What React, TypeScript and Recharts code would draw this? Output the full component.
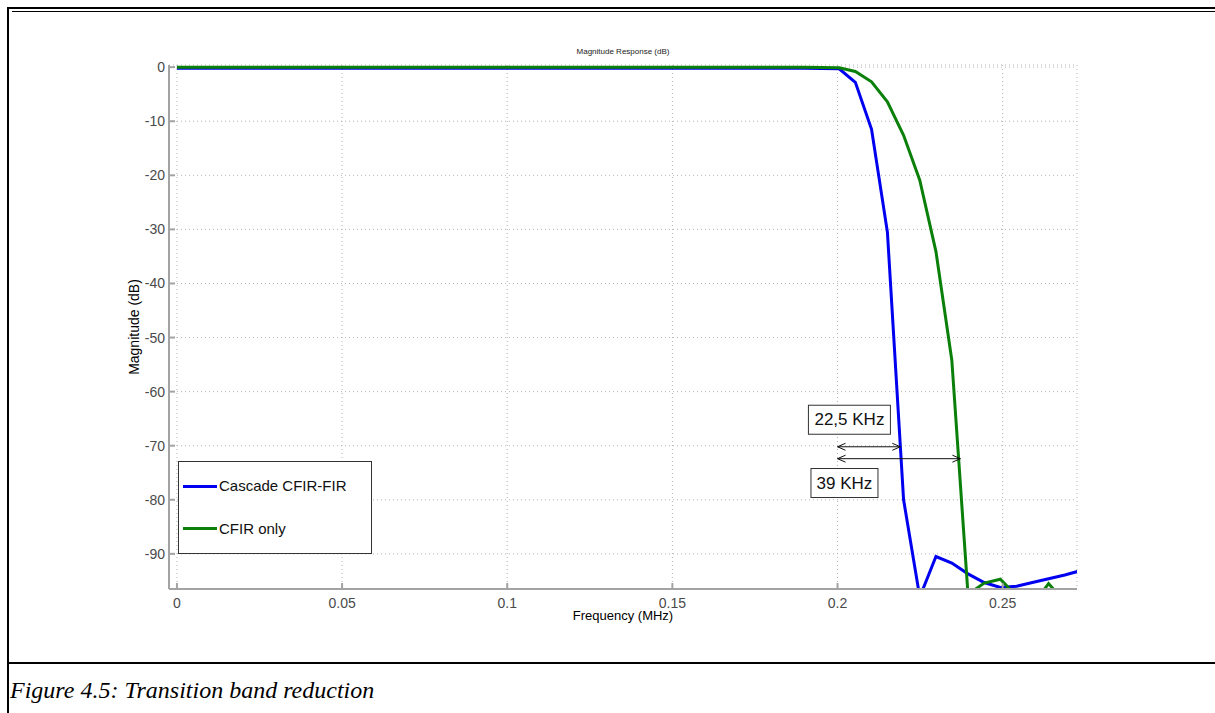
import React from 'react';
import {
  LineChart,
  Line,
  XAxis,
  YAxis,
  CartesianGrid,
  Legend,
  ReferenceLine,
  ReferenceDot,
  Label,
} from 'recharts';

// frequency grid (MHz) and magnitude responses (dB)
const freqMHz = [
  0, 0.05, 0.1, 0.15, 0.19, 0.2005, 0.2054, 0.2103, 0.2151, 0.22, 0.2249, 0.2298, 0.2346,
  0.2395, 0.2444, 0.2493, 0.2542, 0.259, 0.2639, 0.2688, 0.2737,
];
const cascadeDb = [
  -0.2, -0.2, -0.2, -0.2, -0.2, -0.3, -2.8, -11.5, -30.5, -80, -98, -90.5, -91.7,
  -93.7, -95.3, -96.2, -96.0, -95.3, -94.6, -93.9, -93.1,
];
const cfirDb = [
  0, 0, 0, 0, 0, -0.1, -0.8, -2.7, -6.4, -12.6, -20.9, -34.1, -54.2,
  -97.5, -95.4, -94.7, -97.8, -99.5, -95.5, -98.9, -99,
];

const xTicks = [0, 0.05, 0.1, 0.15, 0.2, 0.25];
const yTicks = [0, -10, -20, -30, -40, -50, -60, -70, -80, -90];
const xDomain = [-0.0024, 0.2725];
const yDomain = [-96.5, 0.4];

const seriesKeys = ['cascade', 'cfir'];
const seriesNames = ['Cascade CFIR-FIR', 'CFIR only'];
const seriesColors = ['#0000f0', '#0a800a'];

// annotation arrows: from 0.2 MHz to each curve near -70 dB
const arrowSpans = [
  { from: 0.2, to: 0.219, level: -70.2 },
  { from: 0.2, to: 0.2372, level: -72.4 },
];
const noteTexts = ['22,5 KHz', '39 KHz'];
const noteFreq = [0.2036, 0.2021];
const noteDb = [-65.2, -76.9];

const data = freqMHz.map((f, i) => ({ f, cascade: cascadeDb[i], cfir: cfirDb[i] }));

const SANS = '"Liberation Sans", Arial, sans-serif';
const AXIS_GRAY = '#a3a3a3';

const DoubleArrow = (p: any) => {
  const { x1, y1, x2, y2 } = p;
  const h = 8;
  const w = 3.5;
  return (
    <g stroke="#111" strokeWidth={1} fill="none">
      <line x1={x1} y1={y1} x2={x2} y2={y2} />
      <polyline points={`${x1 + h},${y1 - w} ${x1},${y1} ${x1 + h},${y1 + w}`} />
      <polyline points={`${x2 - h},${y2 - w} ${x2},${y2} ${x2 - h},${y2 + w}`} />
    </g>
  );
};

const noteBox = (text: string, width: number) => (p: any) => {
  const { cx, cy } = p;
  const h = 29;
  return (
    <g>
      <rect x={cx - width / 2} y={cy - h / 2} width={width} height={h} fill="#fff" stroke="#333" strokeWidth={1} />
      <text x={cx} y={cy} textAnchor="middle" dominantBaseline="central" fontFamily={SANS} fontSize={17} fill="#111">
        {text}
      </text>
    </g>
  );
};

const renderLegend = () => (
  <div
    style={{
      width: 192,
      height: 91,
      border: '1px solid #333',
      background: '#fff',
      fontFamily: SANS,
      fontSize: 15,
      color: '#111',
      position: 'relative',
    }}
  >
    {seriesNames.map((name, i) => (
      <div key={name} style={{ position: 'absolute', left: 4, top: 14 + i * 42.5, display: 'flex', alignItems: 'center' }}>
        <div style={{ width: 34, height: 3, background: seriesColors[i] }} />
        <span style={{ marginLeft: 2, lineHeight: '20px' }}>{name}</span>
      </div>
    ))}
  </div>
);

const yLabel = (props: any) => {
  const vb = props.viewBox;
  const cx = vb.x + 25;
  const cy = vb.y + vb.height / 2;
  return (
    <text
      x={cx}
      y={cy}
      transform={`rotate(-90 ${cx} ${cy})`}
      textAnchor="middle"
      dominantBaseline="central"
      fontFamily={SANS}
      fontSize={14}
      fill="#000"
    >
      Magnitude (dB)
    </text>
  );
};

export default function App() {
  return (
    <div style={{ position: 'absolute', left: 0, top: 0, width: 1215, height: 713, background: '#fff', overflow: 'hidden' }}>
      {/* document frame */}
      <div style={{ position: 'absolute', left: 8, top: 7, right: 0, height: 2, background: '#000' }} />
      <div style={{ position: 'absolute', left: 12, top: 11, right: 0, height: 1, background: '#000' }} />
      <div style={{ position: 'absolute', left: 7, top: 7, width: 2, bottom: 0, background: '#000' }} />
      <div style={{ position: 'absolute', left: 8, top: 662, right: 0, height: 2, background: '#000' }} />
      <div
        style={{
          position: 'absolute',
          left: 10,
          top: 675,
          fontFamily: '"Liberation Serif", "Times New Roman", serif',
          fontStyle: 'italic',
          fontSize: 24,
          lineHeight: '30px',
          color: '#000',
          whiteSpace: 'nowrap',
        }}
      >
        Figure 4.5: Transition band reduction
      </div>

      <div style={{ position: 'absolute', left: 0, top: 0 }}>
        <LineChart width={1215} height={663} data={data} margin={{ top: 65, right: 138, bottom: 34, left: 109 }}>
          <CartesianGrid stroke="#b5b5b5" strokeDasharray="1 3" />
          <XAxis
            dataKey="f"
            type="number"
            domain={xDomain}
            ticks={xTicks}
            allowDataOverflow
            height={40}
            tickSize={-6}
            tickMargin={15}
            stroke={AXIS_GRAY}
            strokeWidth={2}
            tick={{ fill: '#4a4a4a', fontSize: 14, fontFamily: SANS }}
            tickFormatter={(v: number) => String(v)}
          >
            <Label value="Frequency (MHz)" position="insideBottom" offset={9} fill="#000" fontSize={13} fontFamily={SANS} />
          </XAxis>
          <XAxis
            xAxisId="top"
            orientation="top"
            type="number"
            domain={xDomain}
            ticks={xTicks}
            allowDataOverflow
            height={0}
            tickSize={-6}
            tick={false}
            stroke={AXIS_GRAY}
            strokeWidth={1.5}
          />
          <YAxis
            type="number"
            domain={yDomain}
            ticks={yTicks}
            allowDataOverflow
            width={60}
            tickSize={-6}
            tickMargin={10}
            stroke={AXIS_GRAY}
            strokeWidth={2}
            tick={{ fill: '#4a4a4a', fontSize: 14, fontFamily: SANS }}
          >
            <Label content={yLabel} />
          </YAxis>
          <YAxis
            yAxisId="right"
            orientation="right"
            type="number"
            domain={yDomain}
            ticks={yTicks}
            allowDataOverflow
            width={0}
            tickSize={-6}
            tick={false}
            stroke={AXIS_GRAY}
            strokeWidth={1.5}
          />
          {seriesKeys.map((k, i) => (
            <Line
              key={k}
              dataKey={k}
              name={seriesNames[i]}
              type="linear"
              stroke={seriesColors[i]}
              strokeWidth={3}
              dot={false}
              isAnimationActive={false}
            />
          ))}
          {arrowSpans.map((a, i) => (
            <ReferenceLine
              key={`arrow-${i}`}
              segment={[
                { x: a.from, y: a.level },
                { x: a.to, y: a.level },
              ]}
              shape={DoubleArrow}
            />
          ))}
          {noteTexts.map((t, i) => (
            <ReferenceDot
              key={`note-${i}`}
              x={noteFreq[i]}
              y={noteDb[i]}
              r={1}
              shape={noteBox(t, i === 0 ? 82 : 67)}
            />
          ))}
          <Legend
            layout="vertical"
            align="center"
            verticalAlign="middle"
            content={renderLegend}
            wrapperStyle={{ left: 178, top: 461, width: 194, height: 93 }}
          />
        </LineChart>
      </div>

      {/* plot title, centred over the axes box */}
      <div
        style={{
          position: 'absolute',
          left: 169,
          width: 908,
          top: 47,
          textAlign: 'center',
          fontFamily: SANS,
          fontSize: 8,
          lineHeight: '10px',
          color: '#222',
        }}
      >
        Magnitude Response (dB)
      </div>
    </div>
  );
}
